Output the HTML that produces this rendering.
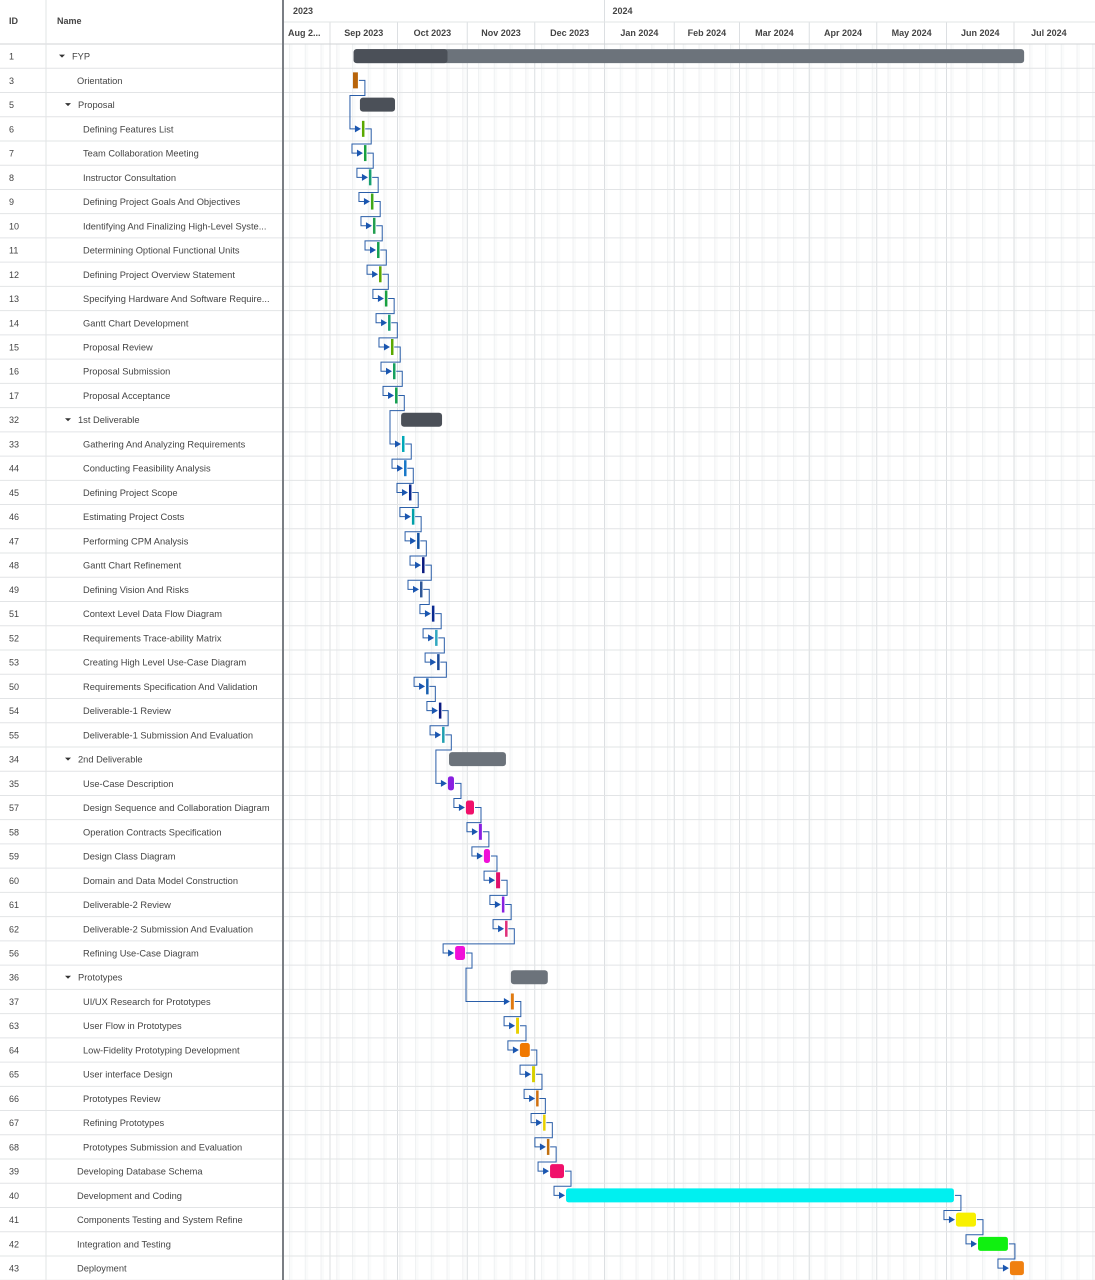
<!DOCTYPE html>
<html><head><meta charset="utf-8"><style>
body{margin:0;background:#fff;font-family:"Liberation Sans",Arial,sans-serif}
svg{display:block}
text{font-family:"Liberation Sans",Arial,sans-serif}
</style></head><body>
<svg id="g" width="1095" height="1280" xmlns="http://www.w3.org/2000/svg"></svg>
<script>
const ids=[1,3,5,6,7,8,9,10,11,12,13,14,15,16,17,32,33,44,45,46,47,48,49,51,52,53,50,54,55,34,35,57,58,59,60,61,62,56,36,37,63,64,65,66,67,68,39,40,41,42,43];
const names=["FYP","Orientation","Proposal","Defining Features List","Team Collaboration Meeting","Instructor Consultation","Defining Project Goals And Objectives","Identifying And Finalizing High-Level Syste...","Determining Optional Functional Units","Defining Project Overview Statement","Specifying Hardware And Software Require...","Gantt Chart Development","Proposal Review","Proposal Submission","Proposal Acceptance","1st Deliverable","Gathering And Analyzing Requirements","Conducting Feasibility Analysis","Defining Project Scope","Estimating Project Costs","Performing CPM Analysis","Gantt Chart Refinement","Defining Vision And Risks","Context Level Data Flow Diagram","Requirements Trace-ability Matrix","Creating High Level Use-Case Diagram","Requirements Specification And Validation","Deliverable-1 Review","Deliverable-1 Submission And Evaluation","2nd Deliverable","Use-Case Description","Design Sequence and Collaboration Diagram","Operation Contracts Specification","Design Class Diagram","Domain and Data Model Construction","Deliverable-2 Review","Deliverable-2 Submission And Evaluation","Refining Use-Case Diagram","Prototypes","UI/UX Research for Prototypes","User Flow in Prototypes","Low-Fidelity Prototyping Development","User interface Design","Prototypes Review","Refining Prototypes","Prototypes Submission and Evaluation","Developing Database Schema","Development and Coding","Components Testing and System Refine","Integration and Testing","Deployment"];
const levels=[0,1,1,2,2,2,2,2,2,2,2,2,2,2,2,1,2,2,2,2,2,2,2,2,2,2,2,2,2,1,2,2,2,2,2,2,2,2,1,2,2,2,2,2,2,2,1,1,1,1,1];
const summary=[1,0,1,0,0,0,0,0,0,0,0,0,0,0,0,1,0,0,0,0,0,0,0,0,0,0,0,0,0,1,0,0,0,0,0,0,0,0,1,0,0,0,0,0,0,0,0,0,0,0,0];
const starts=[10.5,10.2,13.3,14.2,15.1,17.3,18.2,19.1,20.9,21.8,24.4,25.8,27.1,28,28.9,31.6,32,32.9,35.1,36.4,38.7,40.9,40,45.3,46.7,47.6,42.7,48.4,49.8,52.9,52.4,60.4,66.2,68.4,73.8,76.4,77.8,55.6,80.4,80.4,82.7,84.4,89.8,91.6,94.7,96.4,97.8,104.9,278.2,288,302.2];
const durations=[298,2.2,15.6,1,1,1,1,1,1,1,1,1,1,1,1,18.2,1,1,1,1,1,1,1,1,1,1,1,1,1,25.3,2.7,3.6,1.3,2.7,1.8,1,1,4.4,16.4,1.3,1.3,4.4,1.3,1,1,1,6.2,172.4,8.9,13.3,6.2];
const progress=[0.14,0,0,0,0,0,0,0,0,0,0,0,0,0,0,0,0,0,0,0,0,0,0,0,0,0,0,0,0,0,0,0,0,0,0,0,0,0,0,0,0,0,0,0,0,0,0,0,0,0,0];
const colors=["#4b5058","#b8640a","#4b5058","#5aa800","#18a040","#17a070","#40a818","#22a050","#15a050","#5aa800","#18a040","#17a070","#5aa800","#18a060","#15a050","#4b5058","#00a8b8","#1878c8","#0a2a90","#00a0a8","#1050a0","#0a1a80","#305898","#0a2a90","#30a8c0","#1a4a98","#1a60b0","#0a1a80","#20a0b0","#6c737b","#8a20e0","#f0106a","#8a20e0","#f010d8","#e0106a","#8a20e0","#e0307a","#f010d8","#6c737b","#e07a10","#e8d000","#f07800","#d8d000","#d07010","#e8d000","#c07010","#f0106a","#00f0f0","#f8f000","#10f010","#f08010"];
const monthLabels=["Aug 2...","Sep 2023","Oct 2023","Nov 2023","Dec 2023","Jan 2024","Feb 2024","Mar 2024","Apr 2024","May 2024","Jun 2024","Jul 2024"];
const monthStartDays=[-21,0,30,61,91,122,153,182,213,243,274,304,335];

const S="http://www.w3.org/2000/svg",svg=document.getElementById('g');
const X0=330,PX=2.25,RT=44,RH=24.24,GX=284;
const xs=d=>X0+d*PX, ry=i=>RT+i*RH, rc=i=>RT+i*RH+RH/2;
function el(t,a,p){const e=document.createElementNS(S,t);for(const k in a)e.setAttribute(k,a[k]);(p||svg).appendChild(e);return e;}
function tx(x,y,s,a,p){const e=el('text',Object.assign({x:x,y:y,'font-size':10,fill:'#444'},a),p);e.textContent=s;return e;}

const grid=el('g',{});
for(let d=-18;d<340;d+=7){const x=xs(d);if(x>GX&&x<1095){el('rect',{x:x,y:44,width:3,height:1236,fill:'#fafbfb'},grid);el('line',{x1:x,y1:44,x2:x,y2:1280,stroke:'#f0f2f3'},grid);}}
for(let i=1;i<monthStartDays.length-1;i++){const x=xs(monthStartDays[i]);el('line',{x1:x,y1:22,x2:x,y2:1280,stroke:'#dcdfe2'},grid);}
el('line',{x1:xs(122),y1:0,x2:xs(122),y2:22,stroke:'#dcdfe2'},grid);
for(let i=0;i<=ids.length;i++){el('line',{x1:0,y1:ry(i),x2:1095,y2:ry(i),stroke:'#e2e4e6'},grid);}
el('line',{x1:0,y1:44,x2:1095,y2:44,stroke:'#d0d3d6'},grid);
el('line',{x1:GX,y1:22,x2:1095,y2:22,stroke:'#e2e4e6'},grid);
el('line',{x1:46,y1:0,x2:46,y2:1280,stroke:'#e2e4e6'},grid);
el('line',{x1:283,y1:0,x2:283,y2:1280,stroke:'#7a7e84','stroke-width':2},grid);

const hd=el('g',{});
tx(9,24,'ID',{'font-weight':'bold','font-size':9},hd);
tx(57,24,'Name',{'font-weight':'bold','font-size':9},hd);
tx(293,14,'2023',{'font-weight':'bold','font-size':9},hd);
tx(xs(122)+8,14,'2024',{'font-weight':'bold','font-size':9},hd);
for(let i=0;i<monthLabels.length;i++){const a=Math.max(xs(monthStartDays[i]),GX),b=xs(monthStartDays[i+1]);
 const t=tx(i==0?288:(a+b)/2,36,monthLabels[i],{'font-weight':'bold','font-size':9,'text-anchor':i==0?'start':'middle'},hd);
 }

for(let i=0;i<ids.length;i++){
 const g=el('g',{});
 const y=rc(i)+3.5;
 tx(9,y,String(ids[i]),{'font-size':9},g);
 let nx;
 if(summary[i]){const ax=levels[i]==0?62:68;el('path',{d:`M${ax-3},${rc(i)-1.5} L${ax+3},${rc(i)-1.5} L${ax},${rc(i)+1.5}Z`,fill:'#333'},g);nx=ax+10;}
 else nx=levels[i]==1?77:83;
 tx(nx,y,names[i],{'font-size':9.3},g);
}

const lk=el('g',{});
let prev=-1;
for(let i=0;i<ids.length;i++){if(summary[i])continue;
 if(prev>=0){const x1=xs(starts[prev]+durations[prev])+1,x2=xs(starts[i]);const yb=ry(prev+1)+3;const xl=Math.min(x2-12,x1);
  el('path',{d:`M${x1},${rc(prev)} H${x1+6} V${yb} H${xl} V${rc(i)} H${x2-6}`,fill:'none',stroke:'#2a5ea8','stroke-width':1},lk);
  el('path',{d:`M${x2-7},${rc(i)-3.5} L${x2-1},${rc(i)} L${x2-7},${rc(i)+3.5}Z`,fill:'#1a56b0'},lk);}
 prev=i;}

for(let i=0;i<ids.length;i++){
 const x=xs(starts[i]),w=Math.max(durations[i]*PX,2.5);
 const b=el('g',{});
 if(summary[i]){
  el('rect',{x:x,y:rc(i)-7,width:w,height:14,rx:3,fill:i==0?'#6c737b':colors[i]},b);
  if(progress[i]>0)el('rect',{x:x,y:rc(i)-7,width:w*progress[i],height:14,rx:3,fill:'#4b5058'},b);
 }else if(w<5){
  el('rect',{x:x,y:rc(i)-8,width:w,height:16,fill:colors[i]},b);
 }else{
  el('rect',{x:x,y:rc(i)-7,width:w,height:14,rx:2.5,fill:colors[i]},b);
 }
}
</script>
</body></html>
